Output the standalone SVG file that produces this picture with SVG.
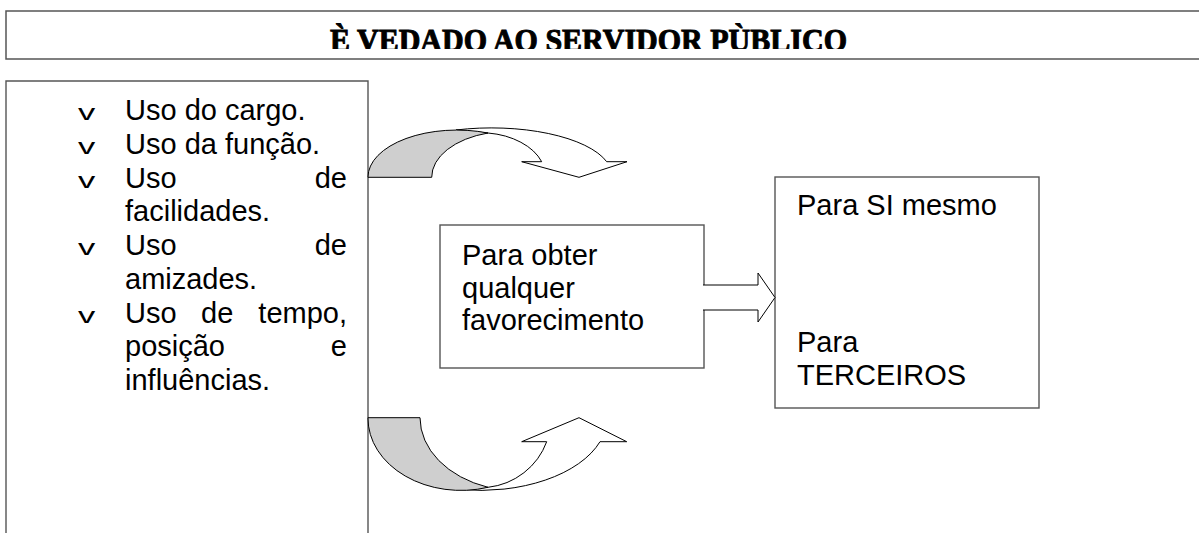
<svg xmlns="http://www.w3.org/2000/svg" width="1199" height="533" viewBox="0 0 1199 533">
<style>
.box{fill:#fff;stroke:#555;stroke-width:1.4}
.t{font-family:"Liberation Sans",Arial,sans-serif;font-size:29px;fill:#000}
.bul{font-family:"Liberation Sans",Arial,sans-serif;font-size:23px;fill:#000}
.arr{fill:#fff;stroke:#000;stroke-width:1}
.shade{fill:#cfcfcf;stroke:#000;stroke-width:1}
.title{font-family:"Liberation Serif","Times New Roman",serif;font-weight:bold;font-size:32px;fill:#000;stroke:#000;stroke-width:1}
</style>
<defs>
<clipPath id="tclip"><rect x="6" y="12" width="1193" height="37"/></clipPath>
</defs>
<rect width="1199" height="533" fill="#fff"/>

<g id="title">
<path d="M1199,11 H6 V59 H1199" fill="none" stroke="#555" stroke-width="1.5"/>
<text class="title" x="330" y="51" textLength="517" lengthAdjust="spacingAndGlyphs" clip-path="url(#tclip)">È VEDADO AO SERVIDOR PÙBLICO</text>
</g>

<g id="list">
<path d="M6,533 V81 H368 V533" fill="none" stroke="#555" stroke-width="1.4"/>
<text class="bul" transform="translate(78,120) scale(1.5,1)">v</text>
<text class="t" x="125" y="120">Uso do cargo.</text>
<text class="bul" transform="translate(78,153.75) scale(1.5,1)">v</text>
<text class="t" x="125" y="153.75">Uso da função.</text>
<text class="bul" transform="translate(78,187.5) scale(1.5,1)">v</text>
<text class="t" x="125" y="187.5">Uso</text>
<text class="t" x="347" y="187.5" text-anchor="end">de</text>
<text class="t" x="125" y="221.25">facilidades.</text>
<text class="bul" transform="translate(78,255) scale(1.5,1)">v</text>
<text class="t" x="125" y="255">Uso</text>
<text class="t" x="347" y="255" text-anchor="end">de</text>
<text class="t" x="125" y="288.75">amizades.</text>
<text class="bul" transform="translate(78,322.5) scale(1.5,1)">v</text>
<text class="t" x="125" y="322.5">Uso</text>
<text class="t" x="201" y="322.5">de</text>
<text class="t" x="347" y="322.5" text-anchor="end">tempo,</text>
<text class="t" x="125" y="356.25">posição</text>
<text class="t" x="347" y="356.25" text-anchor="end">e</text>
<text class="t" x="125" y="390">influências.</text>
</g>

<g id="middle">
<rect class="box" x="440" y="225" width="264" height="143"/>
<text class="t" x="462" y="265">Para obter</text>
<text class="t" x="462" y="297.5">qualquer</text>
<text class="t" x="462" y="330">favorecimento</text>
</g>

<g id="target">
<rect class="box" x="775" y="177" width="264" height="231"/>
<text class="t" x="797" y="215">Para SI mesmo</text>
<text class="t" x="797" y="352">Para</text>
<text class="t" x="797" y="385">TERCEIROS</text>
</g>

<g id="connectors">
<path class="arr" d="M456,130 A120 47 0 0 1 606.7,161.7 L627,161.7 L579,177.3 L521.7,161.7 L541.7,161.7 A65.8 44 0 0 0 488,133 Z"/>
<path class="shade" d="M368,177.3 A89 47 0 0 1 488,133 A78 46 0 0 0 431.7,177.3 Z"/>
<path class="arr" d="M460,489.5 A127 72.3 0 0 0 600,441.7 L626.7,441.7 L579,417.7 L521.7,441.7 L546.7,441.7 A71 70 0 0 1 488,487.3 Z"/>
<path class="shade" d="M368,417.7 A93 72 0 0 0 488,487.3 A100 73.5 0 0 1 420,417.7 Z"/>
<path class="arr" d="M703,285 H758 V273 L775,297.5 L758,322 V310 H703"/>
</g>
</svg>
